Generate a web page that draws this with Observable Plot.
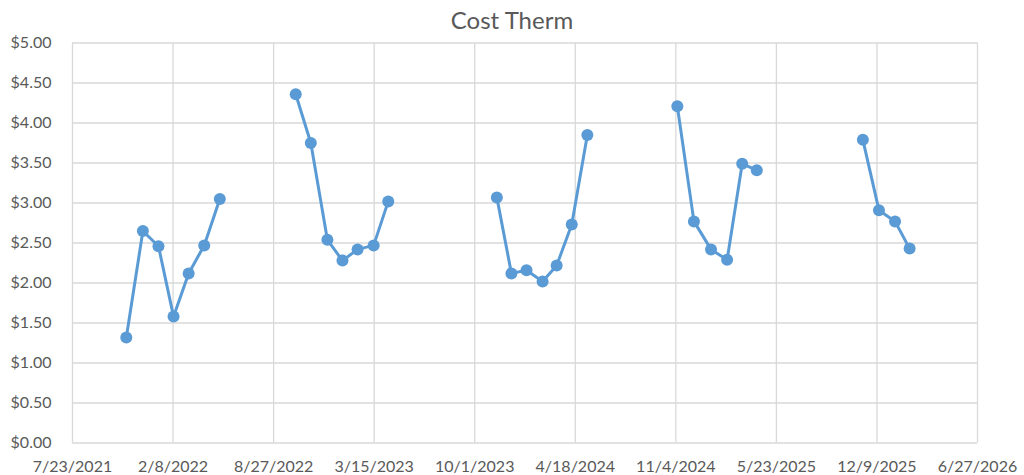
<!DOCTYPE html>
<html><head><meta charset="utf-8">
<script src="https://cdn.jsdelivr.net/npm/d3@7"></script>
<script src="https://cdn.jsdelivr.net/npm/@observablehq/plot@0.6"></script>
<style>
body{margin:0;background:#fff;font-family:Lato,sans-serif;}
#title{height:30px;box-sizing:border-box;padding-top:8px;text-align:center;font-size:24px;line-height:24px;color:#595959;}
</style></head><body>
<div id="title">Cost Therm</div>
<div id="chart"></div>
<script>
const dates = ["2021-11-07","2021-12-10","2022-01-10","2022-02-09","2022-03-11","2022-04-11","2022-05-12",
"2022-10-10","2022-11-09","2022-12-12","2023-01-11","2023-02-10","2023-03-14","2023-04-12",
"2023-11-14","2023-12-13","2024-01-12","2024-02-13","2024-03-12","2024-04-11","2024-05-12",
"2024-11-07","2024-12-10","2025-01-13","2025-02-14","2025-03-16","2025-04-14",
"2025-11-11","2025-12-13","2026-01-14","2026-02-12"];
const values = [1.32,2.65,2.46,1.58,2.12,2.47,3.05,
4.36,3.75,2.54,2.28,2.42,2.47,3.02,
3.07,2.12,2.16,2.02,2.22,2.73,3.85,
4.21,2.77,2.42,2.29,3.49,3.41,
3.79,2.91,2.77,2.43];
const seasons = ["2021-22","2021-22","2021-22","2021-22","2021-22","2021-22","2021-22",
"2022-23","2022-23","2022-23","2022-23","2022-23","2022-23","2022-23",
"2023-24","2023-24","2023-24","2023-24","2023-24","2023-24","2023-24",
"2024-25","2024-25","2024-25","2024-25","2024-25","2024-25",
"2025-26","2025-26","2025-26","2025-26"];
const xTickLabels = ["7/23/2021","2/8/2022","8/27/2022","3/15/2023","10/1/2023","4/18/2024","11/4/2024","5/23/2025","12/9/2025","6/27/2026"];
const yTicks = [0,0.5,1,1.5,2,2.5,3,3.5,4,4.5,5];

const parseTick = d3.utcParse("%m/%d/%Y");
const tickDates = xTickLabels.map(parseTick);
const labelMap = new Map(tickDates.map((d,i)=>[+d, xTickLabels[i]]));
const data = dates.map((d,i)=>({date:new Date(d+"T00:00:00Z"), value:values[i], season:seasons[i]}));

const chart = Plot.plot({
  width:1024, height:445,
  marginLeft:72, marginRight:47, marginTop:12.5, marginBottom:32.5,
  style:{fontFamily:"Lato, sans-serif", fontSize:"16px", color:"#595959", background:"#fff", overflow:"visible"},
  x:{type:"utc", domain:[tickDates[0], tickDates[tickDates.length-1]], label:null},
  y:{domain:[0,5], label:null},
  marks:[
    Plot.gridX(tickDates,{stroke:"#d9d9d9", strokeOpacity:1, strokeWidth:1.3}),
    Plot.gridY(yTicks,{stroke:"#d9d9d9", strokeOpacity:1, strokeWidth:1.3}),
    Plot.axisX(tickDates,{tickSize:0, tickPadding:18, tickFormat:d=>labelMap.get(+d), label:null, fill:"#595959"}),
    Plot.axisY(yTicks,{tickSize:0, tickPadding:21, tickFormat:d=>"$"+d.toFixed(2), label:null, fill:"#595959"}),
    Plot.line(data,{x:"date", y:"value", z:"season", stroke:"#5b9bd5", strokeWidth:3}),
    Plot.dot(data,{x:"date", y:"value", r:6, fill:"#5b9bd5", stroke:"none"})
  ]
});
document.getElementById("chart").appendChild(chart);
</script>
</body></html>
